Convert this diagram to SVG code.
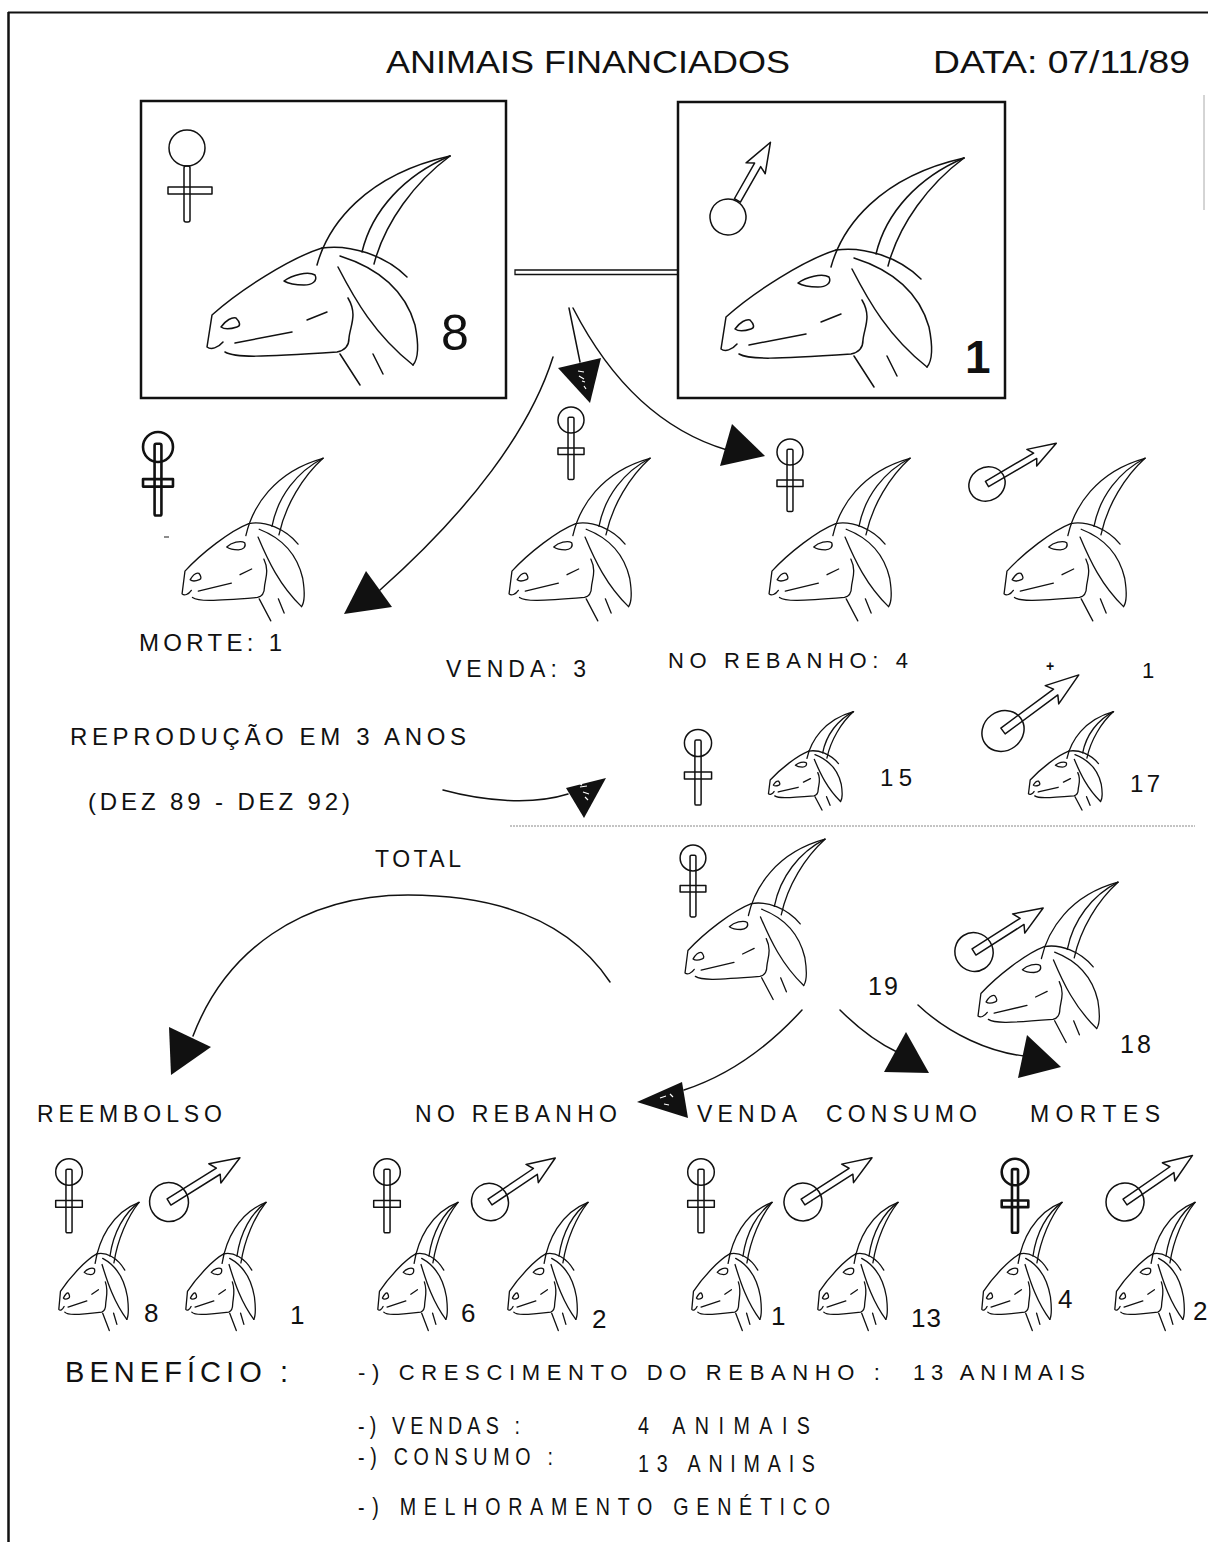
<svg xmlns="http://www.w3.org/2000/svg" width="1210" height="1542" viewBox="0 0 1210 1542">
<style>
  path, circle, rect, line { vector-effect: non-scaling-stroke; }
  .k { fill: none; stroke: #111; stroke-width: 1.5; stroke-linecap: round; stroke-linejoin: round; }
  .gs { stroke-width: 1.3; }
  .bold { stroke-width: 2.6; }
  .frame { fill: none; stroke: #111; stroke-width: 2.5; }
  .head { fill: #111; stroke: none; }
  .speck { fill: none; stroke: #fff; stroke-width: 1.2; }
  .t { font-family: "Liberation Sans", Arial, Helvetica, sans-serif; fill: #111; }
</style>
<defs>
  <!-- goat head in profile, facing left; local box ~ 0..250 x 0..235 -->
  <g id="goat">
    <path d="M117,115 C128,75 165,25 250,6"/>
    <path d="M250,6 C205,25 172,60 162,102"/>
    <path d="M250,6 C215,32 185,72 174,114"/>
    <path d="M122,98 C150,94 185,105 207,127"/>
    <path d="M122,98 C90,108 40,140 12,165 L7,197 C11,200 18,198 23,192"/>
    <path d="M25,202 C35,208 60,207 137,202 C147,200 149,194 149,188 C150,176 158,165 148,148"/>
    <path d="M35,193 L92,182"/>
    <path d="M107,170 L127,162"/>
    <path d="M84,131 C92,125 108,121 115,125 C118,131 112,135 104,135 C96,135 89,134 84,131 Z"/>
    <path d="M21,177 C26,170 32,167 36,168 C40,172 41,176 37,177 C31,179 25,180 21,177 Z"/>
    <path d="M140,106 C178,118 205,140 215,175 C219,195 219,208 213,215"/>
    <path d="M138,117 C155,150 175,185 213,215"/>
    <path d="M140,204 L160,235"/>
    <path d="M173,204 L183,224"/>
  </g>
  <!-- female sign, origin at ring centre -->
  <g id="fem">
    <circle r="14"/>
    <rect x="-3.2" y="-3" width="6.4" height="67" rx="1.5"/>
    <rect x="-14" y="30" width="28" height="7"/>
  </g>
  <!-- male sign, arrow along +x, origin at ring centre -->
  <g id="male">
    <circle r="19"/>
    <path d="M0,-3.5 H57 L53,-11 L82,0 L53,11 L57,3.5 H0 Z"/>
  </g>
</defs>

<rect width="1210" height="1542" fill="#fff"/>

<!-- page frame -->
<g id="page-frame">
  <line x1="8.5" y1="12" x2="8.5" y2="1542" stroke="#111" stroke-width="2.5"/>
  <line x1="8" y1="12.5" x2="1208" y2="12.5" stroke="#111" stroke-width="2"/>
  <line x1="1204" y1="95" x2="1204" y2="210" stroke="#aaa" stroke-width="1"/>
</g>

<!-- header -->
<g id="header">
  <text class="t" x="386" y="73" font-size="32" textLength="404" lengthAdjust="spacingAndGlyphs">ANIMAIS FINANCIADOS</text>
  <text class="t" x="933" y="73" font-size="32" textLength="257" lengthAdjust="spacingAndGlyphs">DATA: 07/11/89</text>
</g>

<!-- financed female -->
<g id="box-female">
  <rect class="frame" x="141" y="101" width="365" height="297"/>
  <g class="k">
    <circle cx="187" cy="148" r="18"/>
    <rect x="184" y="166" width="6" height="56" rx="2"/>
    <rect x="168" y="187" width="44" height="7"/>
  </g>
  <use href="#goat" class="k" transform="translate(200,150)"/>
  <text class="t" x="441" y="350" font-size="50">8</text>
</g>

<!-- financed male -->
<g id="box-male">
  <rect class="frame" x="678" y="102" width="327" height="296"/>
  <g class="k" transform="translate(728,217) rotate(-60.4)">
    <circle r="18"/>
    <path d="M19,-3.5 H60 L56,-11 L86,0 L56,11 L60,3.5 H19 Z"/>
  </g>
  <use href="#goat" class="k" transform="translate(714,152)"/>
  <text class="t" x="965" y="373" font-size="46" font-weight="bold">1</text>
</g>

<!-- first-year outcome -->
<g id="row-morte">
  <use href="#fem" class="k bold" transform="translate(158,447) scale(1.07)"/>
  <use href="#goat" class="k gs" transform="translate(178,454) scale(0.58,0.71)"/>
  <line x1="164" y1="537" x2="169" y2="537" stroke="#666" stroke-width="1.5"/>
  <text class="t" x="139" y="651" font-size="24" textLength="143" lengthAdjust="spacing">MORTE: 1</text>
</g>
<g id="row-venda">
  <use href="#fem" class="k" transform="translate(571,420) scale(0.93)"/>
  <use href="#goat" class="k gs" transform="translate(505,454) scale(0.58,0.71)"/>
  <text class="t" x="446" y="677" font-size="23" textLength="140" lengthAdjust="spacing">VENDA: 3</text>
</g>
<g id="row-rebanho">
  <use href="#fem" class="k" transform="translate(790,452) scale(0.93)"/>
  <use href="#goat" class="k gs" transform="translate(765,454) scale(0.58,0.71)"/>
  <text class="t" x="668" y="668" font-size="22" textLength="240" lengthAdjust="spacing">NO REBANHO: 4</text>
</g>
<g id="row-macho">
  <use href="#male" class="k" transform="translate(987,484) rotate(-30.4) scale(0.98,0.88)"/>
  <use href="#goat" class="k gs" transform="translate(1000,454) scale(0.58,0.71)"/>
  <text class="t" x="1046" y="671" font-size="14" font-weight="bold">+</text>
  <text class="t" x="1142" y="678" font-size="22">1</text>
</g>

<!-- reproduction over three years -->
<g id="reproducao">
  <text class="t" x="70" y="745" font-size="24" textLength="396" lengthAdjust="spacing">REPRODUÇÃO EM 3 ANOS</text>
  <text class="t" x="88" y="810" font-size="24" textLength="262" lengthAdjust="spacing">(DEZ 89 - DEZ 92)</text>
</g>
<g id="cria-femeas">
  <use href="#fem" class="k" transform="translate(698,743) scale(0.97)"/>
  <use href="#goat" class="k gs" transform="translate(766,709) scale(0.35,0.43)"/>
  <text class="t" x="880" y="786" font-size="24" textLength="32" lengthAdjust="spacing">15</text>
</g>
<g id="cria-machos">
  <use href="#male" class="k" transform="translate(1003,731) rotate(-36.5) scale(1.15,1.03)"/>
  <use href="#goat" class="k gs" transform="translate(1026,709) scale(0.35,0.43)"/>
  <text class="t" x="1130" y="792" font-size="24" textLength="30" lengthAdjust="spacing">17</text>
</g>
<line id="separador" x1="510" y1="826" x2="1195" y2="826" stroke="#888" stroke-width="1" stroke-dasharray="2 1"/>

<!-- totals -->
<g id="total-label">
  <text class="t" x="375" y="867" font-size="23" textLength="86" lengthAdjust="spacing">TOTAL</text>
</g>
<g id="total-femeas">
  <use href="#fem" class="k" transform="translate(693,858) scale(0.92)"/>
  <use href="#goat" class="k gs" transform="translate(681,835) scale(0.576,0.70)"/>
  <text class="t" x="868" y="995" font-size="25" textLength="30" lengthAdjust="spacing">19</text>
</g>
<g id="total-machos">
  <use href="#male" class="k" transform="translate(974,952) rotate(-32.5) scale(1,1.03)"/>
  <use href="#goat" class="k gs" transform="translate(974,878) scale(0.576,0.70)"/>
  <text class="t" x="1120" y="1053" font-size="25" textLength="31" lengthAdjust="spacing">18</text>
</g>

<!-- destination labels -->
<g id="destinos">
  <text class="t" x="37" y="1122" font-size="23" textLength="185" lengthAdjust="spacing">REEMBOLSO</text>
  <text class="t" x="415" y="1122" font-size="23" textLength="202" lengthAdjust="spacing">NO REBANHO</text>
  <text class="t" x="697" y="1122" font-size="23" textLength="100" lengthAdjust="spacing">VENDA</text>
  <text class="t" x="826" y="1122" font-size="23" textLength="151" lengthAdjust="spacing">CONSUMO</text>
  <text class="t" x="1030" y="1122" font-size="23" textLength="130" lengthAdjust="spacing">MORTES</text>
</g>

<!-- destination counts -->
<g id="reembolso">
  <use href="#fem" class="k" transform="translate(69,1172) scale(0.95)"/>
  <use href="#goat" class="k gs" transform="translate(56.5,1199) scale(0.33,0.56)"/>
  <text class="t" x="144" y="1322" font-size="26">8</text>
  <use href="#male" class="k" transform="translate(169,1202) rotate(-32) scale(1.02,1.03)"/>
  <use href="#goat" class="k gs" transform="translate(183.5,1199) scale(0.33,0.56)"/>
  <text class="t" x="290" y="1324" font-size="26">1</text>
</g>
<g id="no-rebanho">
  <use href="#fem" class="k" transform="translate(387,1172) scale(0.95)"/>
  <use href="#goat" class="k gs" transform="translate(375.5,1199) scale(0.33,0.56)"/>
  <text class="t" x="461" y="1322" font-size="26">6</text>
  <use href="#male" class="k" transform="translate(490,1202) rotate(-34) scale(0.96,1)"/>
  <use href="#goat" class="k gs" transform="translate(505.5,1199) scale(0.33,0.56)"/>
  <text class="t" x="592" y="1328" font-size="26">2</text>
</g>
<g id="venda-consumo">
  <use href="#fem" class="k" transform="translate(701,1172) scale(0.95)"/>
  <use href="#goat" class="k gs" transform="translate(689.5,1199) scale(0.33,0.56)"/>
  <text class="t" x="771" y="1325" font-size="26">1</text>
  <use href="#male" class="k" transform="translate(803,1202) rotate(-32.7)"/>
  <use href="#goat" class="k gs" transform="translate(815.5,1199) scale(0.33,0.56)"/>
  <text class="t" x="911" y="1327" font-size="26" textLength="30" lengthAdjust="spacing">13</text>
</g>
<g id="mortes">
  <use href="#fem" class="k bold" transform="translate(1015,1172) scale(0.95)"/>
  <use href="#goat" class="k gs" transform="translate(979.5,1199) scale(0.33,0.56)"/>
  <text class="t" x="1058" y="1308" font-size="26">4</text>
  <use href="#male" class="k" transform="translate(1125,1202) rotate(-34.6)"/>
  <use href="#goat" class="k gs" transform="translate(1112.5,1199) scale(0.33,0.56)"/>
  <text class="t" x="1193" y="1320" font-size="26">2</text>
</g>

<!-- benefits -->
<g id="beneficio">
  <text class="t" x="65" y="1382" font-size="29" textLength="223" lengthAdjust="spacing">BENEFÍCIO :</text>
  <text class="t" x="358" y="1380" font-size="22" textLength="522" lengthAdjust="spacing">-) CRESCIMENTO DO REBANHO :</text>
  <text class="t" x="913" y="1380" font-size="22" textLength="172" lengthAdjust="spacing">13 ANIMAIS</text>
  <g transform="scale(0.82,1)">
    <text class="t" x="436.6" y="1434" font-size="24" textLength="197.6" lengthAdjust="spacing">-) VENDAS :</text>
    <text class="t" x="778" y="1434" font-size="24" textLength="209.8" lengthAdjust="spacing">4 ANIMAIS</text>
    <text class="t" x="436.6" y="1465" font-size="24" textLength="237.8" lengthAdjust="spacing">-) CONSUMO :</text>
    <text class="t" x="778" y="1472" font-size="24" textLength="215.9" lengthAdjust="spacing">13 ANIMAIS</text>
    <text class="t" x="436.6" y="1515" font-size="24" textLength="575.6" lengthAdjust="spacing">-) MELHORAMENTO GENÉTICO</text>
  </g>
</g>

<!-- connectors -->
<g id="connectors">
  <rect x="515" y="270" width="163" height="4.5" fill="none" stroke="#111" stroke-width="1.3"/>

  <path class="k" d="M553,357 C530,430 470,510 380,590"/>
  <polygon class="head" points="366,571 392,607 344,614"/>

  <path class="k" d="M569,308 L580,362"/>
  <polygon class="head" points="558,368 601,358 590,403"/>
  <path class="speck" d="M578,371 l6,1 M579,376 l5,3 M582,381 l3,1 M584,386 l2,3"/>

  <path class="k" d="M573,308 C610,380 660,430 727,450"/>
  <polygon class="head" points="732,424 765,456 720,466"/>

  <path class="k" d="M443,790 C480,800 530,806 568,794"/>
  <polygon class="head" points="566,788 606,778 584,818"/>
  <path class="speck" d="M580,787 l7,-1 M583,792 l6,2 M585,797 l3,3 M579,783 l3,2"/>

  <path class="k" d="M610,982 C570,922 500,895 408,895 C300,895 225,952 193,1036"/>
  <polygon class="head" points="169,1027 211,1047 171,1075"/>

  <path class="k" d="M802,1010 C770,1045 730,1075 684,1090"/>
  <polygon class="head" points="637,1102 682,1082 688,1118"/>
  <path class="speck" d="M660,1098 l6,-2 M664,1104 l5,1 M670,1094 l3,3"/>

  <path class="k" d="M840,1010 C860,1030 878,1043 897,1052"/>
  <polygon class="head" points="906,1032 929,1073 884,1072"/>

  <path class="k" d="M918,1005 C950,1035 990,1052 1024,1056"/>
  <polygon class="head" points="1027,1035 1061,1067 1018,1078"/>
</g>
</svg>
